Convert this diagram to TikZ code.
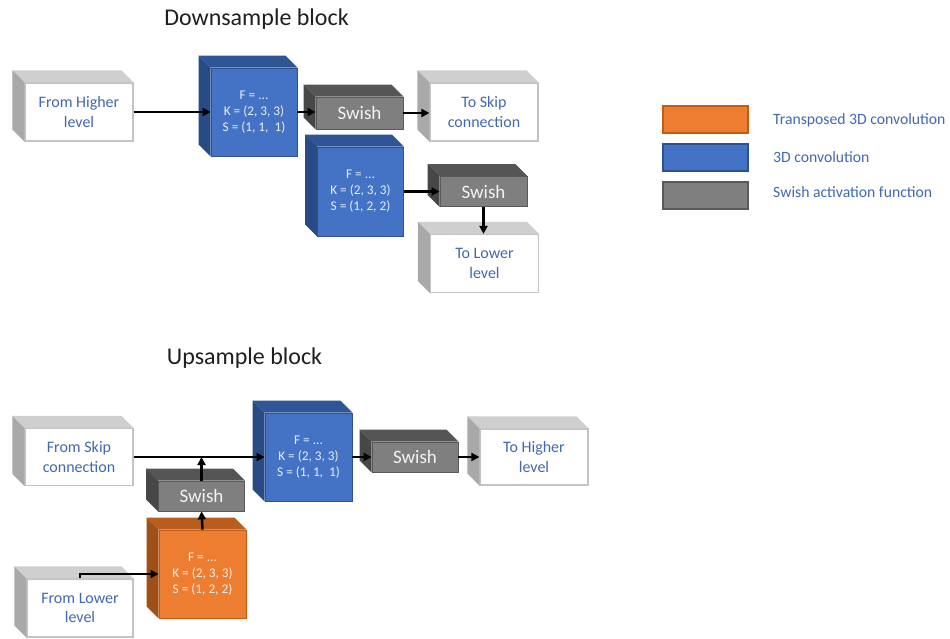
\documentclass[tikz,border=0pt]{standalone}
\usepackage{fontspec}
\setmainfont{Carlito}
\usetikzlibrary{arrows.meta}
\definecolor{txtblue}{HTML}{4169AE}
\definecolor{wboxF}{HTML}{FFFFFF}
\definecolor{wboxT}{HTML}{CFCFCF}
\definecolor{wboxS}{HTML}{A9A9A9}
\definecolor{wboxB}{HTML}{C3C3C3}
\definecolor{bconvF}{HTML}{4472C4}
\definecolor{bconvT}{HTML}{2F5597}
\definecolor{bconvS}{HTML}{284B85}
\definecolor{bconvB}{HTML}{2F528F}
\definecolor{oconvF}{HTML}{ED7D31}
\definecolor{oconvT}{HTML}{B85D1E}
\definecolor{oconvS}{HTML}{A04F17}
\definecolor{oconvB}{HTML}{C55A11}
\definecolor{swF}{HTML}{7F7F7F}
\definecolor{swT}{HTML}{555555}
\definecolor{swS}{HTML}{474747}
\definecolor{swB}{HTML}{5A5A5A}
\tikzset{
  wbox/.style={draw=wboxB, line width=1.2pt, fill=wboxF, text=txtblue, align=center,
    font=\fontsize{16}{19.5}\selectfont, inner sep=0pt},
  bconv/.style={draw=bconvB, line width=0.8pt, fill=bconvF, text=white!88!bconvF, align=center,
    font=\fontsize{13.3}{16}\selectfont, inner sep=0pt},
  oconv/.style={draw=oconvB, line width=0.8pt, fill=oconvF, text=white!88!oconvF, align=center,
    font=\fontsize{13.3}{16}\selectfont, inner sep=0pt},
  sw/.style={draw=swB, line width=0.8pt, fill=swF, text=white!90!swF, align=center,
    font=\fontsize{19}{22}\selectfont, inner sep=0pt},
  arr/.style={line width=2.5pt, -{Triangle[length=8pt,width=8pt]}},
  lgbox/.style={line width=2pt, minimum width=85pt, minimum height=27pt, inner sep=0pt},
  lgtext/.style={anchor=west, text=txtblue, font=\fontsize{15.7}{19}\selectfont, inner sep=0pt},
  title/.style={font=\fontsize{24}{28}\selectfont, text=black!88, inner sep=0pt}
}
\newcommand\cub[7]{%
  \node[#6, minimum width=#4, minimum height=#5] (#1) at (#2,#3) {#7};
  \fill[#6T] (#1.north west) -- ([shift={(-12,-12)}]#1.north west) -- ([shift={(-12,-12)}]#1.north east) -- (#1.north east) -- cycle;
  \fill[#6S] (#1.north west) -- ([shift={(-12,-12)}]#1.north west) -- ([shift={(-12,-12)}]#1.south west) -- (#1.south west) -- cycle;
}
\begin{document}
\begin{tikzpicture}[x=1pt,y=-1pt]
\useasboundingbox[fill=white] (0,0) rectangle (950,639);
% titles
\node[title] (t1) at (256.5,19.5) {Downsample block};
\node[title] (t2) at (244.5,358.5) {Upsample block};
% downsample block
\cub{fh}{79}{112}{108}{58}{wbox}{From Higher\\level}
\cub{c1}{254}{112}{86}{88}{bconv}{F = ...\\K = (2, 3, 3)\\S = (1, 1,\ \ 1)}
\cub{s1}{359.5}{113}{87}{32}{sw}{Swish}
\cub{ts}{484}{112}{108}{58}{wbox}{To Skip\\connection}
\cub{c2}{360.5}{191.5}{86}{89}{bconv}{F = ...\\K = (2, 3, 3)\\S = (1, 2, 2)}
\cub{s2}{483.5}{191.5}{87}{30}{sw}{Swish}
\cub{tl}{484.5}{263.5}{108}{58}{wbox}{To Lower\\level}
\draw[arr] (fh.east) -- (c1.west);
\draw[arr] (c1.east) -- (c1.east -| s1.west);
\draw[arr] (s1.east) -- (s1.east -| ts.west);
\draw[arr] (c2.east) -- (c2.east -| s2.west);
\draw[arr] (s2.south) -- (s2.south |- tl.north);
% upsample block
\cub{fs}{79}{457}{108}{57}{wbox}{From Skip\\connection}
\cub{bc}{308.5}{457}{87}{88}{bconv}{F = ...\\K = (2, 3, 3)\\S = (1, 1,\ \ 1)}
\cub{su}{201.5}{496}{86}{30}{sw}{Swish}
\cub{oc}{202.5}{574}{87}{88}{oconv}{F = ...\\K = (2, 3, 3)\\S = (1, 2, 2)}
\cub{fl}{80}{608}{106}{58}{wbox}{From Lower\\level}
\cub{su2}{415}{457}{86}{30}{sw}{Swish}
\cub{th}{534}{457}{108}{56}{wbox}{To Higher\\level}
\draw[arr] (fs.east) -- (fs.east -| bc.west);
\draw[arr] (su.north) -- (su.north |- fs.east);
\draw[arr] (oc.north) -- (su.south);
\draw[arr] (fl.north) |- (oc.west);
\draw[arr] (bc.east) -- (bc.east -| su2.west);
\draw[arr] (su2.east) -- (su2.east -| th.west);
% legend
\node[lgbox, fill=oconvF, draw=oconvB] (l1) at (705.5,119.5) {};
\node[lgbox, fill=bconvF, draw=bconvB] (l2) at (705.5,157.5) {};
\node[lgbox, fill=swF, draw=swB] (l3) at (705.5,195.5) {};
\node[lgtext] (lt1) at (773,120) {Transposed 3D convolution};
\node[lgtext] (lt2) at (773,157) {3D convolution};
\node[lgtext] (lt3) at (773,192) {Swish activation function};
\end{tikzpicture}
\end{document}
